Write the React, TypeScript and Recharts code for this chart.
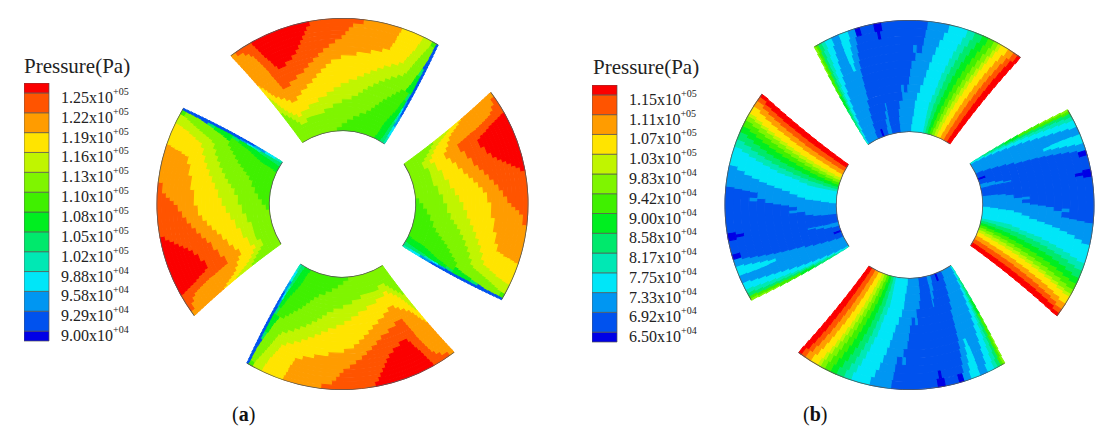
import { Bar, BarChart, Cell, Pie, PieChart, XAxis, YAxis } from 'recharts';

// colour of each contour band, low to high
const bandColors = [
	'#0000e6', '#0052ee', '#0096f2', '#00e6f8', '#00e8b4', '#00e96c', '#00ee20',
	'#40f000', '#7ff500', '#c0f500', '#ffe400', '#ff9c00', '#ff5400', '#fb0000',
];

const legendLabelsA = ['1.25', '1.22', '1.19', '1.16', '1.13', '1.10', '1.08', '1.05', '1.02', '9.88', '9.58', '9.29', '9.00'];
const legendExpA = ['+05', '+05', '+05', '+05', '+05', '+05', '+05', '+05', '+05', '+04', '+04', '+04', '+04'];
const legendLabelsB = ['1.15', '1.11', '1.07', '1.03', '9.83', '9.42', '9.00', '8.58', '8.17', '7.75', '7.33', '6.92', '6.50'];
const legendExpB = ['+05', '+05', '+05', '+05', '+04', '+04', '+04', '+04', '+04', '+04', '+04', '+04', '+04'];
const legendSteps = [0.5, 1, 1, 1, 1, 1, 1, 1, 1, 1, 1, 1, 1, 0.5];
const legendTicks = [0.5, 1.5, 2.5, 3.5, 4.5, 5.5, 6.5, 7.5, 8.5, 9.5, 10.5, 11.5, 12.5];

// the pads repeat every quarter turn
const padTurns = [0, 90, 180, 270];

// one row per ring, inner to outer: band, stop, band, stop ...
// stops of (a) are 28ths of the pad width
const ringBandsA = [
	[8, 12, 7, 24.3, 6, 26.4, 5, 27.6, 4, 28],
	[8, 13.6, 7, 24.7, 6, 26.6, 5, 27.6, 4, 28],
	[8, 15.2, 7, 24.9, 6, 26.7, 5, 27.6, 3, 28],
	[8, 16.8, 7, 25, 6, 26.8, 5, 27.6, 3, 28],
	[8, 2.6, 9, 4.5, 8, 18.4, 7, 25.2, 6, 26.9, 5, 27.6, 3, 28],
	[8, 2, 9, 9.5, 8, 20, 7, 25.5, 6, 27, 5, 27.6, 2, 28],
	[8, 1.5, 9, 3, 10, 4, 9, 11.8, 8, 21, 7, 25.8, 6, 27.2, 4, 27.7, 2, 28],
	[8, 1, 9, 2.2, 10, 6.3, 9, 14, 8, 21.7, 7, 26.1, 6, 27.3, 4, 27.7, 2, 28],
	[8, 0.5, 9, 1.6, 10, 8.8, 9, 16.2, 8, 22.4, 7, 26.4, 6, 27.4, 3, 27.75, 1, 28],
	[9, 1.2, 10, 10.9, 9, 17.6, 8, 23, 7, 26.6, 6, 27.4, 3, 27.75, 1, 28],
	[9, 0.9, 10, 3.3, 11, 4.7, 10, 12.5, 9, 18.5, 8, 23.7, 7, 26.7, 6, 27.5, 2, 27.8, 1, 28],
	[9, 0.7, 10, 2.6, 11, 6, 10, 14, 9, 19.4, 8, 24.4, 7, 26.9, 6, 27.5, 2, 27.8, 1, 28],
	[9, 0.5, 10, 1.8, 11, 7.5, 10, 15.6, 9, 20.4, 8, 25, 7, 27.1, 5, 27.6, 1, 28],
	[9, 0.3, 10, 1.2, 11, 8.8, 10, 17.2, 9, 21.3, 8, 25.6, 7, 27.2, 5, 27.65, 1, 28],
	[10, 0.9, 11, 3.2, 12, 4.8, 11, 9.8, 10, 18.4, 9, 22.3, 8, 26.5, 6, 27.7, 1, 28],
	[10, 0.7, 11, 3.1, 12, 6.4, 11, 10.8, 10, 19.5, 9, 23.2, 8, 26.7, 6, 27.7, 1, 28],
	[10, 0.5, 11, 3, 12, 8, 11, 11.8, 10, 20.6, 9, 24.2, 8, 26.9, 6, 27.7, 1, 28],
	[10, 0.2, 11, 2.9, 12, 9, 11, 12.8, 10, 21.6, 9, 25.1, 8, 27, 6, 27.7, 1, 28],
	[11, 2.8, 12, 10, 11, 14.5, 10, 22.7, 9, 25.5, 8, 27.1, 6, 27.7, 1, 28],
	[11, 2.8, 12, 4.3, 13, 5.7, 12, 11, 11, 17, 10, 23.8, 9, 25.7, 8, 27.3, 5, 27.75, 1, 28],
	[11, 2.7, 12, 4, 13, 7, 12, 11.9, 11, 19.2, 10, 24.5, 9, 25.9, 8, 27.4, 5, 27.75, 1, 28],
	[11, 2.6, 12, 3.9, 13, 7.9, 12, 12.9, 11, 20.9, 10, 24.7, 9, 26.1, 8, 27.5, 1, 28],
	[11, 2.5, 12, 3.7, 13, 8.5, 12, 13.9, 11, 22, 10, 25, 9, 26.3, 8, 27.6, 1, 28],
	[11, 2.4, 12, 3.5, 13, 9, 12, 14.9, 11, 22.2, 10, 25.2, 9, 26.5, 8, 27.7, 1, 28],
	[11, 2.3, 12, 3.4, 13, 9.5, 12, 15.5, 11, 22.5, 10, 25.5, 9, 26.7, 8, 27.7, 1, 28],
	[11, 2, 12, 3.3, 13, 10, 12, 16, 11, 22.6, 10, 25.6, 9, 26.9, 8, 27.75, 1, 28],
	[11, 1.5, 12, 3.2, 13, 10.4, 12, 16.6, 11, 22.8, 10, 25.8, 9, 27.1, 8, 27.75, 1, 28],
	[11, 0.7, 12, 3.1, 13, 11, 12, 18, 11, 23, 10, 25.9, 9, 27.2, 7, 27.8, 1, 28],
];

// stops of (b) are degrees from the pad's centre line
const ringBandsB = [
	[4, -33.8, 3, -33.1, 2, -25, 1, -21, 0, -19.5, 1, -16, 2, -13, 1, -6.5, 2, 1.7, 3, 10.9, 4, 12.7, 5, 14.5, 6, 16.2, 7, 18, 8, 20, 9, 22, 10, 25, 11, 28, 12, 31, 13, 33.6],
	[4, -33.3, 3, -32.5, 2, -24.3, 1, -15.5, 2, -13.2, 1, -6.5, 2, 2.3, 3, 11, 4, 13, 5, 15, 6, 17, 7, 18.8, 8, 20.7, 9, 22.7, 10, 25.6, 11, 28.4, 12, 31.3, 13, 33.9],
	[5, -33.2, 4, -32.5, 3, -31.8, 2, -23.5, 1, -14.5, 2, -13, 1, -6.2, 2, 3, 3, 11, 4, 13.5, 5, 15.5, 6, 17.6, 7, 19.6, 8, 21.4, 9, 23.3, 10, 26.2, 11, 28.8, 12, 31.6, 13, 34.1],
	[5, -32.8, 4, -32, 3, -31, 2, -22.8, 1, -13.5, 2, -12.8, 1, -5.4, 2, 3.3, 3, 11.2, 4, 13.8, 5, 16, 6, 18.3, 7, 20.3, 8, 22.1, 9, 23.9, 10, 26.7, 11, 29.2, 12, 31.9, 13, 34.4],
	[5, -32.3, 4, -31.5, 3, -30.3, 2, -22, 1, -3.5, 2, 4.2, 3, 12, 4, 14.4, 5, 16.7, 6, 19, 7, 21, 8, 22.8, 9, 24.5, 10, 27.2, 11, 29.6, 12, 32.2, 13, 34.6],
	[6, -32.2, 5, -31.6, 4, -31, 3, -29.6, 2, -21, 1, -3.8, 2, -2.5, 1, -0.8, 2, 5.5, 3, 13, 4, 15, 5, 17.4, 6, 19.7, 7, 21.8, 8, 23.5, 9, 25.1, 10, 27.7, 11, 30, 12, 32.5, 13, 34.9],
	[6, -31.8, 5, -31.2, 4, -30.5, 3, -29, 2, -20.6, 1, 0, 2, 6.7, 3, 13.5, 4, 15.7, 5, 18, 6, 20.4, 7, 22.5, 8, 24.2, 9, 25.7, 10, 28.3, 11, 30.5, 12, 32.8, 13, 35.1],
	[7, -31.6, 5, -30.8, 4, -30, 3, -28.3, 2, -20.2, 1, 0.5, 2, 7.5, 3, 14, 4, 16.3, 5, 18.7, 6, 21.1, 7, 23.2, 8, 24.9, 9, 26.3, 10, 28.8, 11, 31, 12, 33.2, 13, 35.4],
	[7, -31.3, 5, -30.4, 4, -29.4, 3, -27.6, 2, -19.8, 1, 1, 2, 8.2, 3, 14.8, 4, 17, 5, 19.4, 6, 21.8, 7, 23.9, 8, 25.6, 9, 26.9, 10, 29.4, 11, 31.4, 12, 33.5, 13, 35.6],
	[7, -30.9, 5, -30, 4, -29, 3, -27, 2, -22.6, 3, -21.5, 2, -19.3, 1, 2.5, 2, 9, 3, 15.5, 4, 17.8, 5, 20.1, 6, 22.5, 7, 24.6, 8, 26.3, 9, 27.5, 10, 29.9, 11, 31.9, 12, 33.8, 13, 35.9],
	[8, -31.4, 7, -30.5, 5, -29.7, 4, -28.5, 3, -26.5, 2, -22.8, 3, -21, 2, -18.8, 1, 1.5, 2, 2.8, 1, 4.8, 2, 9.8, 3, 16.2, 4, 18.5, 5, 20.9, 6, 23.2, 7, 25.3, 8, 27, 9, 28.1, 10, 30.4, 11, 32.4, 12, 34.2, 13, 36.1],
	[8, -31.1, 7, -30.3, 5, -29.4, 4, -28.1, 3, -26, 2, -22.8, 3, -20.5, 2, -18.3, 1, 5.2, 2, 10.6, 3, 17, 4, 19.3, 5, 21.7, 6, 24, 7, 26, 8, 27.7, 9, 28.7, 10, 31, 11, 32.9, 12, 34.6, 13, 36.4],
	[8, -30.8, 7, -30, 5, -29, 4, -27.7, 3, -25.6, 2, -22.7, 3, -20, 2, -17.8, 1, -10.5, 0, -9.5, 1, 5.5, 2, 11.6, 3, 17.8, 4, 20.2, 5, 22.6, 6, 24.8, 7, 26.8, 8, 28.4, 9, 29.4, 10, 31.6, 11, 33.5, 12, 35, 13, 36.6],
	[8, -30.4, 7, -29.6, 5, -28.5, 4, -27.3, 3, -25, 2, -22.5, 3, -19.5, 2, -17.2, 0, -15.5, 1, -11.2, 0, -8.7, 1, 5.9, 2, 12.7, 3, 18.6, 4, 21, 5, 23.5, 6, 25.5, 7, 27.5, 8, 29, 9, 30, 10, 32.5, 11, 34.5, 12, 36, 13, 36.9],
];

// pad side edges in degrees from the centre line, at the hole and at the rim
const edgesA = { startIn: -33, startOut: -37, endIn: 35, endOut: 31 };
const edgesB = { startIn: -34.5, startOut: -31, endIn: 33.5, endOut: 37 };

const rowsToCells = (row: number[], origin: number) => {
	const cells: { band: number; span: number }[] = [];
	let prev = origin;
	for (let i = 0; i < row.length; i += 2) {
		cells.push({ band: row[i], span: row[i + 1] - prev });
		prev = row[i + 1];
	}
	return cells;
};

type Edges = typeof edgesA;

const Figure = ({ left, cx, cy, inner, outer, rows, edges, useOrigin }: {
	left: number; cx: number; cy: number; inner: number; outer: number;
	rows: number[][]; edges: Edges; useOrigin: boolean;
}) => {
	const ringWidth = (outer - inner) / rows.length;
	const edgeAt = (t: number) => ({
		start: edges.startIn + (edges.startOut - edges.startIn) * t,
		end: edges.endIn + (edges.endOut - edges.endIn) * t,
	});
	return (
		<div style={{ position: 'absolute', left, top: 0 }}>
			<PieChart width={557} height={445} margin={{ top: 0, right: 0, bottom: 0, left: 0 }}>
				{padTurns.flatMap((turn) => [
					...rows.map((row, k) => {
						const { start, end } = edgeAt((k + 0.5) / rows.length);
						const cells = rowsToCells(row, useOrigin ? start : 0);
						return (
							<Pie
								key={`${turn}-${k}`}
								data={cells}
								dataKey='span'
								cx={cx}
								cy={cy}
								innerRadius={inner + k * ringWidth}
								outerRadius={inner + (k + 1) * ringWidth}
								startAngle={90 - turn - start}
								endAngle={90 - turn - end}
								paddingAngle={0}
								label={false}
								labelLine={false}
								legendType='none'
								isAnimationActive={false}
							>
								{cells.map((c, i) => (
									<Cell key={i} fill={bandColors[c.band]} stroke={bandColors[c.band]} strokeWidth={1} />
								))}
							</Pie>
						);
					}),
					// thin dark outline on the hole arc and on the rim
					...[0, 1].map((t) => (
						<Pie
							key={`${turn}-line-${t}`}
							data={[{ span: 1 }]}
							dataKey='span'
							cx={cx}
							cy={cy}
							innerRadius={t ? outer - 0.3 : inner - 0.6}
							outerRadius={t ? outer + 0.5 : inner + 0.2}
							startAngle={90 - turn - edgeAt(t).start}
							endAngle={90 - turn - edgeAt(t).end}
							fill='#555'
							stroke='none'
							label={false}
							labelLine={false}
							legendType='none'
							isAnimationActive={false}
						/>
					)),
				])}
			</PieChart>
		</div>
	);
};

const LegendTick = ({ x, y, payload, labels, exps }: any) => {
	const i = Math.round(12.5 - payload.value);
	return (
		<text x={x + 6} y={y + 10} fill='#222' fontFamily='Liberation Serif' fontSize={16}>
			<tspan>{labels[i]}x10</tspan>
			<tspan dy={-8} fontSize={10}>{exps[i]}</tspan>
		</text>
	);
};

const ColorLegend = ({ left, top, height, labels, exps }: {
	left: number; top: number; height: number; labels: string[]; exps: string[];
}) => {
	const row: Record<string, number | string> = { name: 'levels' };
	legendSteps.forEach((s, i) => {
		row[`l${i}`] = s;
	});
	return (
		<div style={{ position: 'absolute', left, top }}>
			<BarChart
				width={135}
				height={height + 16}
				data={[row]}
				barCategoryGap={0}
				margin={{ top: 0, right: 0, bottom: 16, left: 0 }}
			>
				<XAxis dataKey='name' type='category' hide />
				<YAxis
					type='number'
					orientation='right'
					domain={[0, 13]}
					ticks={legendTicks}
					interval={0}
					width={110}
					axisLine={false}
					tickLine={false}
					tickMargin={0}
					tick={<LegendTick labels={labels} exps={exps} />}
				/>
				{bandColors.map((c, i) => (
					<Bar key={c} dataKey={`l${i}`} stackId='legend' fill={c} stroke='#555' strokeWidth={0.7} isAnimationActive={false} />
				))}
			</BarChart>
		</div>
	);
};

const serif = 'Liberation Serif';

const Title = ({ left, top }: { left: number; top: number }) => (
	<div style={{ position: 'absolute', left, top, fontFamily: serif, fontSize: 21, lineHeight: '24px', color: '#222', whiteSpace: 'nowrap' }}>
		Pressure(Pa)
	</div>
);

const Caption = ({ left, letter }: { left: number; letter: string }) => (
	<div style={{ position: 'absolute', left, top: 402, fontFamily: serif, fontSize: 20, lineHeight: '24px', color: '#111' }}>
		(<b>{letter}</b>)
	</div>
);

export default function App() {
	return (
		<div style={{ position: 'absolute', left: 0, top: 0, width: 1115, height: 445, background: '#fff', overflow: 'hidden' }}>
			<Figure left={0} cx={342.5} cy={204} inner={73.5} outer={185.5} rows={ringBandsA} edges={edgesA} useOrigin={false} />
			<Figure left={557} cx={352.5} cy={205} inner={73.5} outer={184.5} rows={ringBandsB} edges={edgesB} useOrigin={true} />
			<Title left={24} top={54} />
			<Title left={593} top={55} />
			<ColorLegend left={24} top={83} height={258} labels={legendLabelsA} exps={legendExpA} />
			<ColorLegend left={592} top={85} height={257} labels={legendLabelsB} exps={legendExpB} />
			<Caption left={232} letter='a' />
			<Caption left={803} letter='b' />
		</div>
	);
}
